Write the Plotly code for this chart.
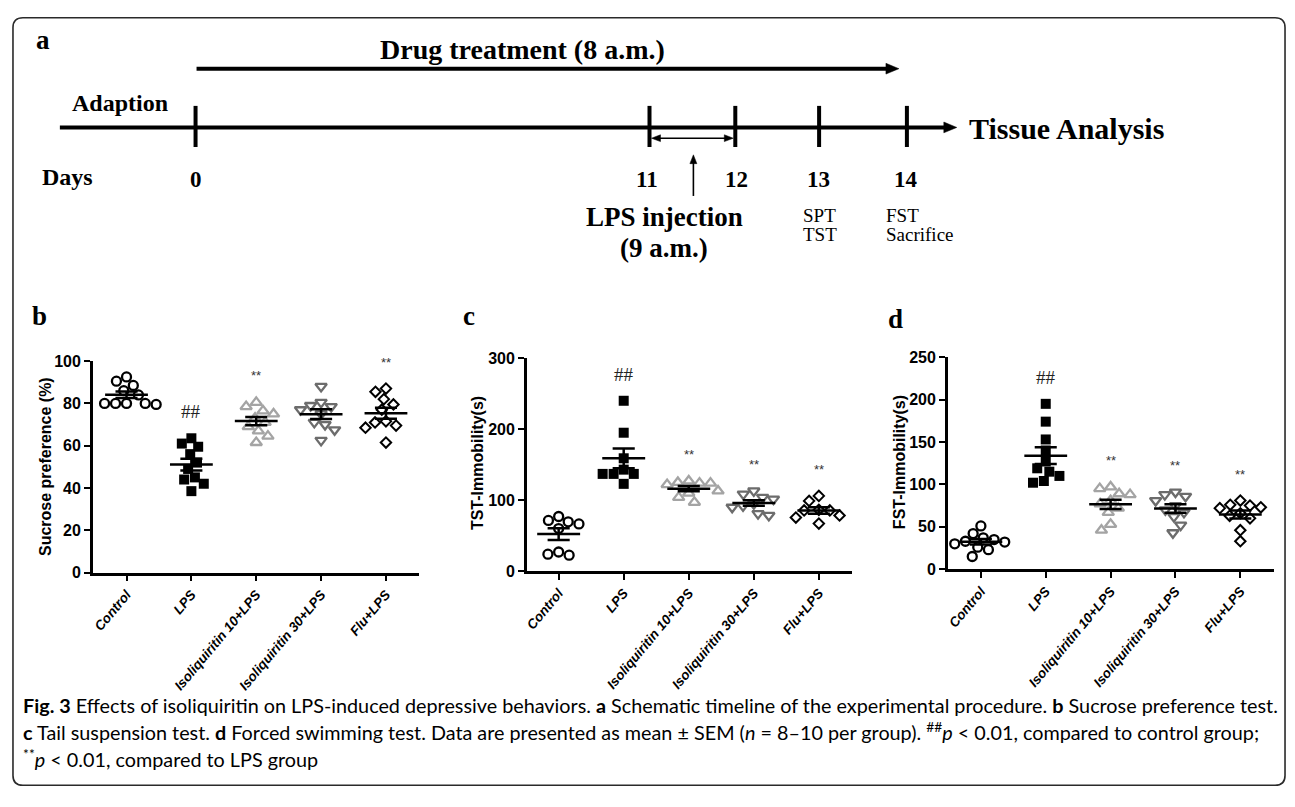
import numpy as np
import plotly.graph_objects as go

W, H = 1295, 807

# ---------------- data ----------------
GROUPS = ["Control", "LPS", "Isoliquiritin 10+LPS", "Isoliquiritin 30+LPS", "Flu+LPS"]

# b: Sucrose preference (%)
SPT_CONTROL = [92.5, 90.5, 88.5, 86, 84, 80, 80, 80, 80, 79.5]
SPT_LPS = [63.5, 61, 59.5, 56, 52, 49, 45, 44, 42, 38.5]
SPT_ISO10 = [80.5, 78.5, 76.5, 75, 73, 71, 69, 67, 64.5, 61.5]
SPT_ISO30 = [88, 80.5, 79, 78.5, 77, 75, 71, 70, 67.5, 62.5]
SPT_FLU = [87, 85.5, 82, 79.5, 77, 71.5, 71, 69.5, 68.5, 61.5]

# c: TST immobility (s)
TST_CONTROL = [77, 71.5, 69.5, 66.5, 60, 27, 24, 22.5]
TST_LPS = [240, 195, 159, 143, 137, 137, 137, 123]
TST_ISO10 = [127, 125, 124, 124, 122, 113, 110, 104, 97]
TST_ISO30 = [113, 108.5, 104, 101.5, 95, 92, 90, 81, 78.5]
TST_FLU = [106, 99, 86.5, 85.5, 85.5, 78.5, 75.5, 67]

# d: FST immobility (s)
FST_CONTROL = [51, 42, 37, 35, 33, 32, 30, 26, 23, 15]
FST_LPS = [195, 174, 153, 140, 127, 119, 115, 110, 104, 102]
FST_ISO10 = [97, 95, 89, 88, 81, 77, 72, 67, 53, 46]
FST_ISO30 = [91, 88, 86, 81, 75, 70, 67, 62, 52, 43]
FST_FLU = [81, 76, 75, 73, 72, 66, 63, 60, 46, 33]

SIG_MARKS = ["", "##", "**", "**", "**"]

Y_TICKS_B = [0, 20, 40, 60, 80, 100]
Y_TICKS_C = [0, 100, 200, 300]
Y_TICKS_D = [0, 50, 100, 150, 200, 250]

TIMELINE_DAYS = ["0", "11", "12", "13", "14"]

# ---------------- layout helpers ----------------
def PX(x):
    return x / W


def PY(y):
    return 1 - y / H


STYLES = [
    dict(symbol="circle-open", color="#000000", size=9, lw=2.3),
    dict(symbol="square", color="#000000", size=10, lw=0),
    dict(symbol="triangle-up-open", color="#a4a4a4", size=10, lw=2.3),
    dict(symbol="triangle-down-open", color="#6c6c6c", size=10, lw=2.3),
    dict(symbol="diamond-open", color="#000000", size=8, lw=2.0),
]

PANELS = [
    dict(name="b", data=[SPT_CONTROL, SPT_LPS, SPT_ISO10, SPT_ISO30, SPT_FLU],
         box=(90, 417, 360.7, 576.7), yr=(0, 100), xr=(-0.52, 4.51), ticks=Y_TICKS_B,
         title="Sucrose preference (%)", title_xy=(42, 468), letter_xy=(37, 315)),
    dict(name="c", data=[TST_CONTROL, TST_LPS, TST_ISO10, TST_ISO30, TST_FLU],
         box=(525, 851, 357.7, 575.3), yr=(0, 300), xr=(-0.49, 4.51), ticks=Y_TICKS_C,
         title="TST-Immobility(s)", title_xy=(475, 465), letter_xy=(467, 315)),
    dict(name="d", data=[FST_CONTROL, FST_LPS, FST_ISO10, FST_ISO30, FST_FLU],
         box=(947, 1274, 356.7, 573.3), yr=(0, 250), xr=(-0.51, 4.52), ticks=Y_TICKS_D,
         title="FST-Immobility(s)", title_xy=(898, 464), letter_xy=(895, 318)),
]


def swarm(vals, px_per_x, px_per_y, D=11.0):
    order = sorted(range(len(vals)), key=lambda i: -vals[i])
    placed = []
    offs = [0.0] * len(vals)
    for i in order:
        y = vals[i] * px_per_y
        iv = []
        for (px, py) in placed:
            d = abs(py - y)
            if d < D:
                h = (D * D - d * d) ** 0.5
                iv.append((px - h, px + h))
        cands = [0.0] + [a for a, b in iv] + [b for a, b in iv]
        valid = [c for c in cands if all(not (a + 1e-6 < c < b - 1e-6) for a, b in iv)]
        best = min(valid, key=lambda c: (round(abs(c), 4), c))
        placed.append((best, y))
        offs[i] = best / px_per_x
    return offs


fig = go.Figure()
annotations = []
shapes = []

AXFONT = "Liberation Sans, Arial, sans-serif"
SERIF = "Liberation Serif, Times New Roman, serif"

for k, p in enumerate(PANELS):
    ax = "" if k == 0 else str(k + 1)
    xa, ya = "x" + ax, "y" + ax
    x0, x1, yt, yb = p["box"]
    px_per_x = (x1 - x0) / (p["xr"][1] - p["xr"][0])
    px_per_y = (yb - yt) / (p["yr"][1] - p["yr"][0])
    rng = p["yr"][1] - p["yr"][0]

    mx, my = [], []
    for gi, vals in enumerate(p["data"]):
        st = STYLES[gi]
        offs = swarm(vals, px_per_x, px_per_y)
        fig.add_trace(go.Scatter(
            x=[gi + o for o in offs], y=vals, mode="markers", xaxis=xa, yaxis=ya,
            showlegend=False, cliponaxis=False,
            marker=dict(symbol=st["symbol"], size=st["size"], color=st["color"],
                        line=dict(width=st["lw"], color=st["color"]))))
        arr = np.array(vals, dtype=float)
        mean = arr.mean()
        sem = arr.std(ddof=1) / np.sqrt(len(arr))
        mx += [gi - 0.33, gi + 0.33, None, gi, gi, None,
               gi - 0.17, gi + 0.17, None, gi - 0.17, gi + 0.17, None]
        my += [mean, mean, None, mean - sem, mean + sem, None,
               mean - sem, mean - sem, None, mean + sem, mean + sem, None]
        if SIG_MARKS[gi]:
            ytxt = arr.max() + 0.125 * rng
            if SIG_MARKS[gi] == "##":
                annotations.append(dict(x=gi, y=ytxt, xref=xa, yref=ya, text="##", showarrow=False,
                                        xanchor="center", yanchor="middle",
                                        font=dict(family=SERIF, size=19, color="#222222")))
            else:
                annotations.append(dict(x=gi, y=ytxt, xref=xa, yref=ya, text="**", showarrow=False,
                                        xanchor="center", yanchor="middle",
                                        font=dict(family=AXFONT, size=13, color="#333333")))
    fig.add_trace(go.Scatter(x=mx, y=my, mode="lines", xaxis=xa, yaxis=ya, showlegend=False,
                             cliponaxis=False, line=dict(color="#000000", width=2.5),
                             hoverinfo="skip"))

    fig.update_layout(**{
        "xaxis" + ax: dict(domain=[PX(x0), PX(x1)], range=list(p["xr"]), anchor=ya,
                           tickvals=list(range(len(GROUPS))), ticktext=GROUPS, tickangle=-50,
                           showline=True, linewidth=2.5, linecolor="black", ticks="outside",
                           ticklen=6, tickwidth=2, tickcolor="black", showgrid=False, zeroline=False,
                           tickfont=dict(family=AXFONT, size=13.5, color="black", weight="bold",
                                         style="italic")),
        "yaxis" + ax: dict(domain=[PY(yb), PY(yt)], range=list(p["yr"]), anchor=xa,
                           tickvals=p["ticks"], showline=True, linewidth=2.5, linecolor="black",
                           ticks="outside", ticklen=6, tickwidth=2, tickcolor="black",
                           showgrid=False, zeroline=False,
                           tickfont=dict(family=AXFONT, size=16, color="black", weight="bold")),
    })
    annotations.append(dict(x=PX(p["title_xy"][0]), y=PY(p["title_xy"][1]), xref="paper", yref="paper",
                            text=p["title"], textangle=-90, showarrow=False,
                            xanchor="center", yanchor="middle",
                            font=dict(family=AXFONT, size=16, color="black", weight="bold")))
    annotations.append(dict(x=PX(p["letter_xy"][0]), y=PY(p["letter_xy"][1]), xref="paper", yref="paper",
                            text="<b>%s</b>" % p["name"], showarrow=False,
                            xanchor="center", yanchor="middle",
                            font=dict(family=SERIF, size=27, color="black")))

# ---------------- panel a: timeline schematic ----------------
def line(x0, y0, x1, y1, w=4):
    shapes.append(dict(type="line", xref="paper", yref="paper", x0=PX(x0), y0=PY(y0),
                       x1=PX(x1), y1=PY(y1), line=dict(color="black", width=w)))


def tri(pts):
    path = "M " + " L ".join("%f,%f" % (PX(a), PY(b)) for a, b in pts) + " Z"
    shapes.append(dict(type="path", xref="paper", yref="paper", path=path,
                       fillcolor="black", line=dict(color="black", width=0.5)))


def text(x, y, s, size, bold=True, xanchor="center", family=SERIF):
    annotations.append(dict(x=PX(x), y=PY(y), xref="paper", yref="paper",
                            text=("<b>%s</b>" % s) if bold else s, showarrow=False,
                            xanchor=xanchor, yanchor="middle",
                            font=dict(family=family, size=size, color="black")))


# drug treatment arrow
line(194, 62, 887, 62)
tri([(885, 56.5), (898, 62), (885, 67.5)])
# main timeline
line(57, 122, 945, 122)
tri([(943, 116.5), (956, 122), (943, 127.5)])
TICK_X = [193, 648, 734, 818, 906]
for tx in TICK_X:
    line(tx, 100, tx, 142)
# LPS double arrow
line(655, 133, 727, 133, w=1.6)
tri([(650, 133), (659, 129.5), (659, 136.5)])
tri([(732, 133), (723, 129.5), (723, 136.5)])
# up arrow
line(692, 192, 692, 158, w=1.6)
tri([(692, 150), (688.5, 159), (695.5, 159)])

text(40, 33, "a", 27)
text(521, 42, "Drug treatment (8 a.m.)", 28)
text(117, 97, "Adaption", 24)
text(65, 173, "Days", 24)
LABEL_X = [193, 645, 735, 817, 905]
for lx, d in zip(LABEL_X, TIMELINE_DAYS):
    text(lx, 175, d, 23)
text(663, 214, "LPS injection", 27)
text(663, 245, "(9 a.m.)", 27)
text(800, 212, "SPT", 19, bold=False, xanchor="left")
text(800, 231, "TST", 19, bold=False, xanchor="left")
text(883, 212, "FST", 19, bold=False, xanchor="left")
text(883, 231, "Sacrifice", 19, bold=False, xanchor="left")
text(966, 123, "Tissue Analysis", 30, xanchor="left")

# ---------------- caption ----------------
CAP = "Lato, Open Sans, sans-serif"
cap_lines = [
    "<b>Fig. 3</b> Effects of isoliquiritin on LPS-induced depressive behaviors. <b>a</b> Schematic timeline of the experimental procedure. <b>b</b> Sucrose preference test.",
    "<b>c</b> Tail suspension test. <b>d</b> Forced swimming test. Data are presented as mean ± SEM (<i>n</i> = 8–10 per group). <sup>##</sup><i>p</i> &lt; 0.01, compared to control group;",
    "<sup>**</sup><i>p</i> &lt; 0.01, compared to LPS group",
]
for cy, s in zip([712, 739, 766], cap_lines):
    text(18, cy, s, 19.8, bold=False, xanchor="left", family=CAP)

# border
r = 10
bx0, by0, bx1, by1 = 10, 10, 1285, 794
path = ("M %f,%f L %f,%f Q %f,%f %f,%f L %f,%f Q %f,%f %f,%f L %f,%f Q %f,%f %f,%f L %f,%f Q %f,%f %f,%f Z" % (
    PX(bx0 + r), PY(by0), PX(bx1 - r), PY(by0), PX(bx1), PY(by0), PX(bx1), PY(by0 + r),
    PX(bx1), PY(by1 - r), PX(bx1), PY(by1), PX(bx1 - r), PY(by1),
    PX(bx0 + r), PY(by1), PX(bx0), PY(by1), PX(bx0), PY(by1 - r),
    PX(bx0), PY(by0 + r), PX(bx0), PY(by0), PX(bx0 + r), PY(by0)))
shapes.append(dict(type="path", xref="paper", yref="paper", path=path,
                   line=dict(color="#2a2a2a", width=1.6), layer="below"))

fig.update_layout(width=W, height=H, margin=dict(l=0, r=0, t=0, b=0),
                  paper_bgcolor="white", plot_bgcolor="white",
                  annotations=annotations, shapes=shapes, showlegend=False)

fig.write_html("out.html", config={"displayModeBar": False},
               post_script="document.documentElement.style.margin='0';"
                           "document.body.style.margin='0';document.body.style.padding='0';"
                           "document.body.style.overflow='hidden';")
